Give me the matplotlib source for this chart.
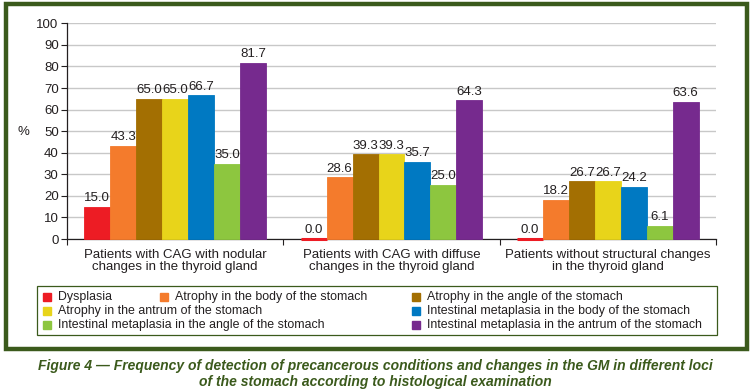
import numpy as np
import matplotlib.pyplot as plt
from matplotlib.patches import Rectangle

# data
groups = ['Patients with CAG with nodular\nchanges in the thyroid gland',
          'Patients with CAG with diffuse\nchanges in the thyroid gland',
          'Patients without structural changes\nin the thyroid gland']
series = ['Dysplasia',
          'Atrophy in the body of the stomach',
          'Atrophy in the angle of the stomach',
          'Atrophy in the antrum of the stomach',
          'Intestinal metaplasia in the body of the stomach',
          'Intestinal metaplasia in the angle of the stomach',
          'Intestinal metaplasia in the antrum of the stomach']
dysplasia = [15.0, 0.0, 0.0]
atrophy_body = [43.3, 28.6, 18.2]
atrophy_angle = [65.0, 39.3, 26.7]
atrophy_antrum = [65.0, 39.3, 26.7]
im_body = [66.7, 35.7, 24.2]
im_angle = [35.0, 25.0, 6.1]
im_antrum = [81.7, 64.3, 63.6]
yticks = list(range(0, 101, 10))

values = [dysplasia, atrophy_body, atrophy_angle, atrophy_antrum,
          im_body, im_angle, im_antrum]
colors = ['#ED1C24', '#F47B2C', '#A36F02', '#E8D41A',
          '#0079C2', '#8DC63F', '#762A8E']

plt.rcParams['font.family'] = ['Liberation Sans', 'DejaVu Sans']
text_col = '#231f20'
frame_col = '#3B5A1C'

fig = plt.figure(figsize=(7.5, 3.92), dpi=100)
W, H = 750, 392


def fx(px):
    return px / W


def fy(py):
    return 1 - py / H


# outer green frame
fig.patches.append(Rectangle((fx(6), fy(349)), fx(741), 345 / H,
                             transform=fig.transFigure, fill=False,
                             edgecolor=frame_col, linewidth=3.2))

ax = fig.add_axes([fx(67), fy(239), fx(716 - 67), (239 - 23.3) / H])

x = np.arange(len(groups))
n = len(series)
bw = 0.84 / n
for i, (vals, c) in enumerate(zip(values, colors)):
    pos = x - 0.42 + bw * (i + 0.5)
    ax.bar(pos, vals, width=bw, color=c, edgecolor=c, linewidth=0.6,
           zorder=6, clip_on=False)
    for p, v in zip(pos, vals):
        if v == 0:
            # zero bars still show as a thin coloured line on the axis
            ax.plot([p - bw / 2, p + bw / 2], [0, 0], color=c, lw=2.2,
                    solid_capstyle='butt', zorder=6, clip_on=False)
        ax.text(p, v + 1.2, f'{v:.1f}', ha='center', va='bottom',
                fontsize=9.5, color=text_col, zorder=7)

ax.set_xlim(-0.5, len(groups) - 0.5)
ax.set_ylim(0, 100)
ax.set_yticks(yticks)
ax.tick_params(axis='y', labelsize=9.5, colors=text_col, length=4,
               width=0.8, pad=2)
ax.set_xticks(x)
ax.set_xticklabels(groups, fontsize=9.5, color=text_col, linespacing=1.0)
ax.tick_params(axis='x', length=0, pad=7)
ax.set_xticks(np.arange(len(groups) + 1) - 0.5, minor=True)
ax.tick_params(axis='x', which='minor', length=4, width=0.8, color=text_col)
ax.grid(axis='y', color='#c8c8c8', linewidth=1.0, zorder=0)
ax.set_axisbelow(True)
for s in ['top', 'right']:
    ax.spines[s].set_visible(False)
for s in ['left', 'bottom']:
    ax.spines[s].set_color(text_col)
    ax.spines[s].set_linewidth(0.9)
    ax.spines[s].set_zorder(5)

fig.text(fx(23), fy(132), '%', fontsize=9.5, color=text_col,
         ha='center', va='center')

# legend box drawn by hand to keep the reference layout
fig.patches.append(Rectangle((fx(37), fy(335)), fx(717 - 37), 49 / H,
                             transform=fig.transFigure, fill=False,
                             edgecolor=frame_col, linewidth=0.9))
leg_pos = [(43, 297), (160, 297), (412, 297),
           (43, 311), (412, 311),
           (43, 325), (412, 325)]
for (lx, ly), name, c in zip(leg_pos, series, colors):
    fig.patches.append(Rectangle((fx(lx), fy(ly + 4)), fx(8), 8 / H,
                                 transform=fig.transFigure, color=c))
    fig.text(fx(lx + 15), fy(ly), name, fontsize=8.9, color=text_col,
             ha='left', va='center')

caption = ('Figure 4 — Frequency of detection of precancerous conditions and '
           'changes in the GM in different loci\n'
           'of the stomach according to histological examination')
fig.text(0.5, fy(374), caption, fontsize=10, color=frame_col, ha='center',
         va='center', fontweight='bold', style='italic', linespacing=1.15)

fig.savefig('out.png', dpi=100)
